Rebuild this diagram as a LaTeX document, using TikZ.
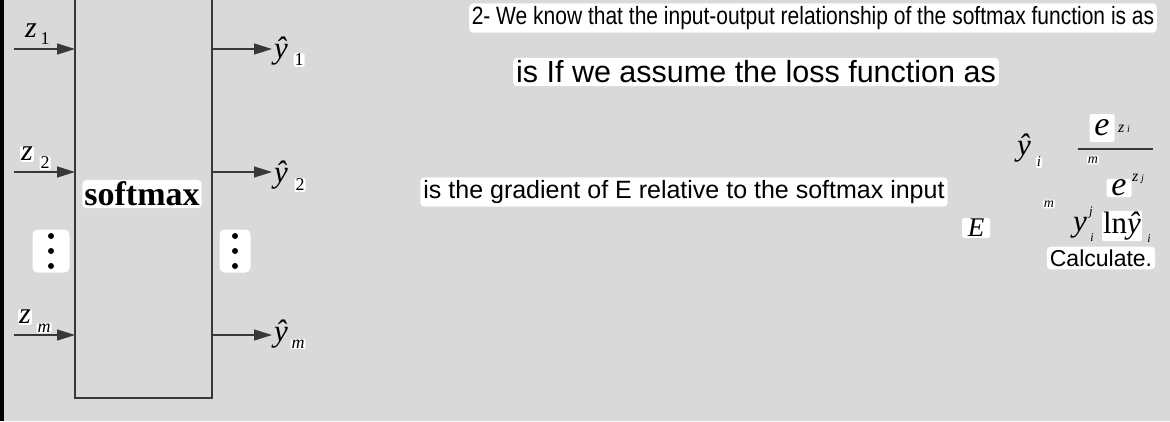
\documentclass[tikz,border=0pt]{standalone}
\usepackage{fontspec}
\setmainfont{Liberation Serif}
\newfontfamily\arial{Liberation Sans}
\usetikzlibrary{arrows.meta}
\definecolor{bg}{HTML}{D9D9D9}
\definecolor{ink}{HTML}{383838}
\newcommand\fs[1]{\fontsize{#1}{#1}\selectfont}
\tikzset{
  tag/.style={fill=white, rounded corners=2pt, inner sep=1pt},
  sig/.style={draw=ink, line width=1.3pt, -{Triangle[length=18pt,width=11pt]}},
  note/.style={fill=white, rounded corners=4pt, inner sep=3pt, font=\arial},
  mathit/.style={inner sep=1pt, font=\itshape\fs{#1}},
}

\begin{document}
\begin{tikzpicture}[x=1pt,y=-1pt]
\fill[bg] (0,0) rectangle (1170,421);
\useasboundingbox (0,0) rectangle (1170,421);
\fill[black] (0,0) rectangle (4,421);
\draw[ink, line width=1.3pt] (75,-2) -- (75,398) -- (212,398) -- (212,-2);
\node[tag, rounded corners=4pt, inner sep=2pt, font=\bfseries\fs{34}] (soft) at (142,194) {softmax};
\foreach \n/\y in {1/49,2/172,m/335} {
  \coordinate (in\n) at (14,\y);
  \coordinate (L\n) at (75,\y);
  \coordinate (R\n) at (212,\y);
  \coordinate (out\n) at (272,\y);
  \draw[sig] (in\n) -- (L\n);
  \draw[sig] (R\n) -- (out\n);
}
\node[mathit=30] (z1) at (31,31) {z};
\node[inner sep=1pt, font=\fs{18}] (z1s) at (45,39) {1};
\node[tag, mathit=30] (z2) at (27,154) {z};
\node[tag, font=\fs{18}] (z2s) at (45,163) {2};
\node[tag, mathit=30] (zm) at (25,317) {z};
\node[tag, mathit=18] (zms) at (44,328) {m};
\foreach \n/\y in {1/51,2/175,m/334} {
  \node[mathit=31] (yh\n) at (281,\y) {\^{y}};
}
\node[tag, font=\fs{18}] (y1s) at (299,60) {1};
\node[tag, font=\fs{18}] (y2s) at (300,185) {2};
\node[tag, mathit=18] (yms) at (298,344) {m};
\foreach \n/\x/\w in {1/51/37,2/235/31} {
  \node[tag, rounded corners=5pt, minimum width=\w pt, minimum height=43pt] (vd\n) at (\x,251) {};
  \foreach \k in {-15,0,15}
    \fill ([yshift=\k pt]vd\n.center) circle (3pt);
}
\node[note, font=\arial\fs{25}, xscale=0.84, transform shape] (t1) at (813,18) {2- We know that the input-output relationship of the softmax function is as};
\node[note, font=\arial\fs{30.5}] (t2) at (756,72) {is If we assume the loss function as};
\node[note, font=\arial\fs{25}] (t3) at (684,192) {is the gradient of E relative to the softmax input};
\node[mathit=31] (yi) at (1024,148) {\^{y}};
\node[tag, mathit=15] (yis) at (1039,162) {i};
\draw[ink, line width=2pt] (1078,149) -- (1153,149);
\node[tag, mathit=34, minimum width=25pt, minimum height=28pt] (e1) at (1102,128) {e};
\node[mathit=16] (e1s) at (1124,129) {z\,\fs{10}i};
\node[tag, mathit=14] (m1) at (1093,160) {m};
\node[tag, mathit=34, minimum width=25pt] (e2) at (1119,188) {e};
\node[mathit=16] (e2s) at (1138,179) {z\,\fs{10}j};
\node[tag, mathit=14] (m2) at (1049,204) {m};
\node[tag, mathit=27, minimum width=28pt] (E) at (976,228) {E};
\node[mathit=31] (yj) at (1080,228) {y};
\node[mathit=13] (yjs) at (1091,213) {j};
\node[mathit=12] (yji) at (1092,238) {i};
\node[tag, mathit=31] (lny) at (1122,226) {{\upshape ln}\^{y}};
\node[mathit=12] (lnyi) at (1149,239) {i};
\node[note, font=\arial\fs{23}] (calc) at (1101,258) {Calculate.};
\end{tikzpicture}
\end{document}
